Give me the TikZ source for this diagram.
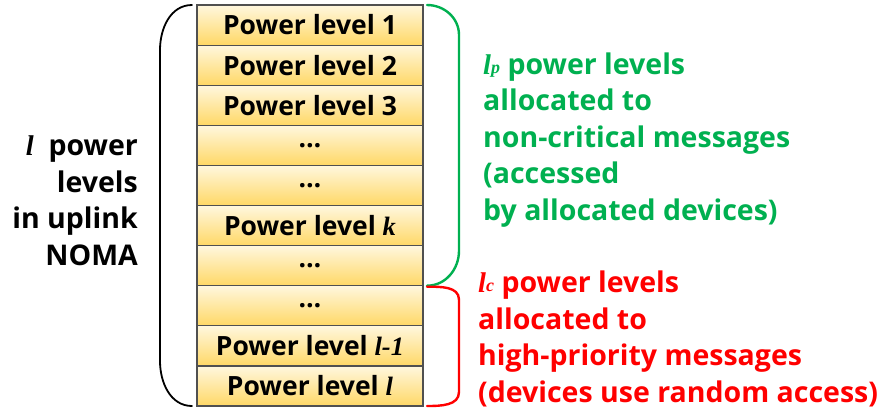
\documentclass[tikz,border=0pt]{standalone}
\usepackage{fontspec}
\setmainfont{Open Sans}
\newfontfamily\lvfont{Liberation Serif}
\usetikzlibrary{positioning,calc}
\definecolor{grx}{RGB}{0,176,80}
\definecolor{rdx}{RGB}{255,0,0}
\definecolor{boxtop}{RGB}{255,247,222}
\definecolor{boxbot}{RGB}{255,216,102}
\definecolor{boxline}{RGB}{80,80,80}
\newcommand\lv[1]{{\lvfont\bfseries\itshape #1}}
\tikzset{
    level/.style={draw=boxline,line width=1.2pt,top color=boxtop,bottom color=boxbot,
        minimum width=226pt,minimum height=40.1pt,inner sep=0pt,outer sep=0pt,
        font=\fontsize{26.5}{26.5}\selectfont\bfseries},
    note/.style={inner sep=0pt,font=\fontsize{28.5}{36.4}\selectfont\bfseries},
    brk/.style={line width=#1,line cap=round},
    brk/.default=1.8pt
}

\begin{document}
\begin{tikzpicture}[x=1pt,y=-1pt]
    \useasboundingbox (0,0) rectangle (893,413);
    \node [level] (p1) at (310,25.05) {Power level 1};
    \foreach \txt [count=\i from 2] in {Power level 2,Power level 3,\dots,\dots,
        Power level \lv{k},\dots,\dots,Power level \lv{l-1},Power level \lv{l}} {
        \pgfmathtruncatemacro\j{\i-1}
        \node [level,below=0pt of p\j] (p\i) {\txt};
    }
    % brackets
    \draw [brk] ($(p1.north west)+(-5,0)$)
        to [out=180,in=90] ($(p1.north west)+(-37,45)$)
        -- ($(p10.south west)+(-37,-45)$)
        to [out=-90,in=180] ($(p10.south west)+(-5,0)$);
    \draw [brk=2.4pt,grx] ($(p1.north east)+(4,0)$)
        to [out=0,in=90] ($(p1.north east)+(36,30)$)
        -- ($(p7.south east)+(36,-35)$)
        to [out=-90,in=0] ($(p7.south east)+(4,0)$);
    \draw [brk=2.4pt,rdx] ($(p8.north east)+(4,1)$)
        to [out=0,in=90] ($(p8.north east)+(36,14)$)
        -- ($(p10.south east)+(36,-14)$)
        to [out=-90,in=0] ($(p10.south east)+(4,0)$);
    % labels (base anchor sits on the last line)
    \node [note,align=right,anchor=base east] (total) at (138,265)
        {\lv{l}\ \ power\\levels\\in uplink\\NOMA};
    \node [note,grx,align=left,anchor=base west] (soft) at (483,220)
        {\lv{l}\raisebox{1pt}{\fontsize{18}{18}\selectfont\lv{p}}\ power levels\\allocated to\\non-critical messages\\(accessed\\by allocated devices)};
    \node [note,rdx,align=left,anchor=base west] (crit) at (478,402)
        {\lv{l}\raisebox{1pt}{\fontsize{18}{18}\selectfont\lv{c}}\ power levels\\allocated to\\high-priority messages\\(devices use random access)};
\end{tikzpicture}
\end{document}
